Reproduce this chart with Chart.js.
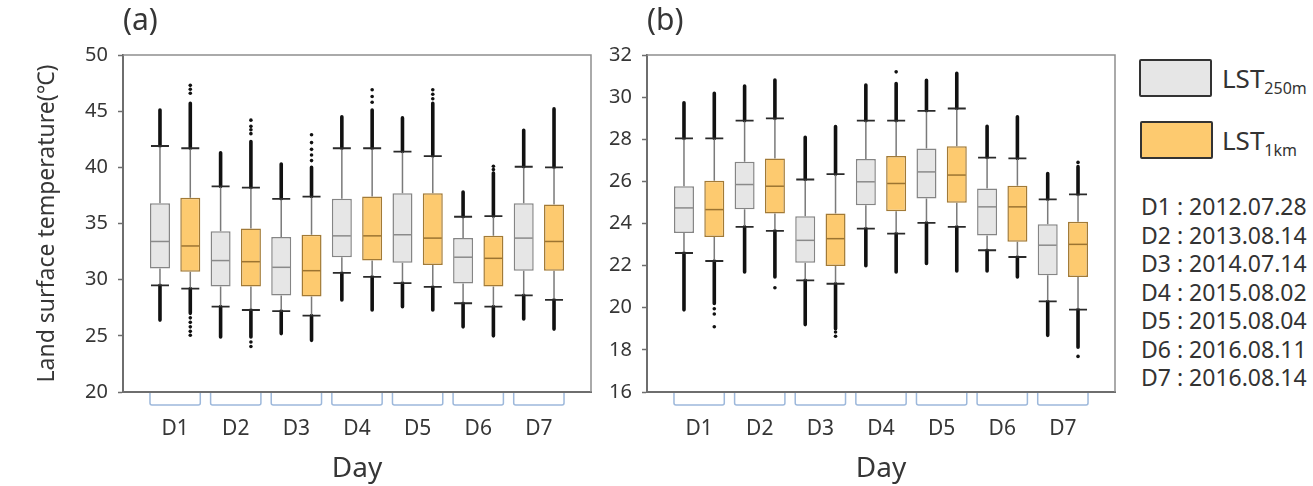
<!DOCTYPE html>
<html>
<head>
<meta charset="utf-8">
<script src="https://cdn.jsdelivr.net/npm/chart.js@4.4.1/dist/chart.umd.min.js"></script>
<style>
  html, body { margin: 0; padding: 0; background: #fff; }
  body { width: 1313px; height: 486px; position: relative; overflow: hidden;
         font-family: 'Noto Sans', sans-serif; color: #333; }
  canvas { position: absolute; top: 0; }
  #chartA { left: 0; }
  #chartB { left: 600px; }
  .swatch { position: absolute; width: 69px; height: 34px; border: 2px solid #333; border-radius: 2px; }
  .lst { position: absolute; left: 1222px; font-size: 26px; line-height: 26px; white-space: nowrap; }
  .lst sub { font-size: 16px; vertical-align: baseline; position: relative; top: 6px; }
  #dates { position: absolute; left: 1141px; top: 192px; font-size: 23px; line-height: 28.5px; white-space: pre; }
</style>
</head>
<body>
<canvas id="chartA" width="600" height="486"></canvas>
<canvas id="chartB" width="520" height="486"></canvas>

<div class="swatch" style="left:1139px;top:59px;background:#e6e6e6"></div>
<div class="swatch" style="left:1140px;top:121px;background:#fdca6f"></div>
<div class="lst" style="top:65px">LST<sub>250m</sub></div>
<div class="lst" style="top:127px">LST<sub>1km</sub></div>
<div id="dates"></div>

<script>
// ── DATA ──
const DAYS  = ['D1', 'D2', 'D3', 'D4', 'D5', 'D6', 'D7'];
const DATES = ['2012.07.28', '2013.08.14', '2014.07.14', '2015.08.02', '2015.08.04', '2016.08.11', '2016.08.14'];

// per day: [lower whisker, Q1, median, Q3, upper whisker]
const A_250 = [
  [29.5, 31.0, 33.4, 36.8, 41.9],
  [27.6, 29.4, 31.7, 34.3, 38.3],
  [27.2, 28.6, 31.1, 33.8, 37.2],
  [30.6, 32.0, 33.9, 37.2, 41.7],
  [29.7, 31.5, 34.0, 37.7, 41.4],
  [27.9, 29.65, 32.0, 33.7, 35.6],
  [28.6, 30.8, 33.7, 36.8, 40.05]
];
const A_1K = [
  [29.2, 30.7, 33.0, 37.3, 41.7],
  [27.3, 29.4, 31.6, 34.55, 38.2],
  [26.8, 28.5, 30.8, 34.0, 37.4],
  [30.25, 31.7, 33.9, 37.4, 41.7],
  [29.35, 31.3, 33.7, 37.7, 41.0],
  [27.6, 29.4, 31.9, 33.9, 35.65],
  [28.2, 30.8, 33.4, 36.7, 40.0]
];
const B_250 = [
  [22.6, 23.55, 24.74, 25.77, 28.04],
  [23.84, 24.68, 25.85, 26.93, 28.88],
  [21.3, 22.14, 23.2, 24.35, 26.09],
  [23.76, 24.87, 25.98, 27.06, 28.88],
  [24.03, 25.19, 26.45, 27.56, 29.35],
  [22.73, 23.43, 24.79, 25.66, 27.13],
  [20.3, 21.54, 22.97, 23.97, 25.15]
];
const B_1K = [
  [22.22, 23.36, 24.66, 26.03, 28.04],
  [23.65, 24.47, 25.77, 27.09, 28.99],
  [21.14, 21.98, 23.28, 24.47, 26.34],
  [23.52, 24.58, 25.9, 27.2, 28.88],
  [23.84, 24.98, 26.3, 27.67, 29.46],
  [22.41, 23.13, 24.79, 25.79, 27.09],
  [19.91, 21.46, 23.01, 24.08, 25.38]
];

// dense outlier range per day: [lowest, highest]
const A_250_TAILS = [[26.4, 45.1], [24.9, 41.3], [25.2, 40.3], [28.2, 44.5], [27.6, 44.4], [25.8, 37.8], [26.5, 43.3]];
const A_1K_TAILS  = [[27.0, 45.7], [24.9, 42.3], [24.6, 40.0], [27.3, 45.1], [27.3, 45.7], [25.0, 39.5], [25.6, 45.2]];
const B_250_TAILS = [[19.9, 29.73], [21.7, 30.53], [19.2, 28.09], [22.0, 30.57], [22.1, 30.8], [21.75, 28.62], [18.69, 26.37]];
const B_1K_TAILS  = [[20.2, 30.18], [21.46, 30.81], [19.0, 28.6], [21.7, 30.65], [21.75, 31.13], [21.46, 29.07], [18.13, 26.7]];

// isolated outliers
const A_250_DOTS = [[], [], [], [], [], [], []];
const A_1K_DOTS  = [
  [26.6, 26.2, 25.8, 25.4, 25.05, 46.6, 46.95, 47.3],
  [24.45, 24.05, 43.0, 43.35, 43.65, 44.2],
  [40.6, 41.1, 41.6, 42.2, 42.9],
  [45.8, 46.3, 46.9],
  [46.1, 46.5, 46.9],
  [39.8, 40.1],
  []
];
const B_250_DOTS = [[], [], [], [], [], [], []];
const B_1K_DOTS  = [[19.95, 19.7, 19.1], [20.95], [18.85, 18.65], [31.2], [], [], [26.9, 17.69]];

// ── STYLE ──
const CHART_FONT  = "'Noto Sans', sans-serif";
const TEXT_COLOR  = '#363636';
const AXIS_COLOR  = '#6e6e6e';
const FRAME_COLOR = '#8e8e8e';
const BRACKET_COLOR = '#9db8db';
const WHISKER_COLOR = '#7a7a7a';
const CAP_COLOR   = '#2a2a2a';
const DOT_COLOR   = '#111';
const BOX_W = 20;

const GRAY_STYLE   = { fill: '#e6e6e6', edge: '#858585', median: '#8a8a8a' };
const ORANGE_STYLE = { fill: '#fdca6f', edge: '#a27a36', median: '#9c7431' };

document.getElementById('dates').textContent =
  DAYS.map((d, i) => `${d} : ${DATES[i]}`).join('\n');

function boxDataset(label, stats, tails, dots, shift, style) {
  return {
    label,
    data: stats.map((s, i) => ({ x: i + shift, y: [s[1], s[3]] })),
    stats, tails, dots, shift,
    medianColor: style.median,
    backgroundColor: style.fill,
    borderColor: style.edge,
    borderWidth: 1.5,
    borderSkipped: false,
    grouped: false,
    maxBarThickness: BOX_W
  };
}

const boxExtrasPlugin = {
  id: 'boxExtras',
  beforeDatasetsDraw(chart) {
    const { ctx, scales: { x, y } } = chart;
    ctx.save();
    chart.data.datasets.forEach(ds => {
      ds.stats.forEach(([lo, q1, med, q3, hi], i) => {
        const cx = x.getPixelForValue(i + ds.shift);
        const [tMin, tMax] = ds.tails[i];

        // dense outliers
        ctx.strokeStyle = DOT_COLOR;
        ctx.lineWidth = 3.6;
        ctx.lineCap = 'round';
        ctx.beginPath();
        ctx.moveTo(cx, y.getPixelForValue(hi));
        ctx.lineTo(cx, y.getPixelForValue(tMax));
        ctx.moveTo(cx, y.getPixelForValue(lo));
        ctx.lineTo(cx, y.getPixelForValue(tMin));
        ctx.stroke();

        // whiskers
        ctx.strokeStyle = WHISKER_COLOR;
        ctx.lineWidth = 1.5;
        ctx.lineCap = 'butt';
        ctx.beginPath();
        ctx.moveTo(cx, y.getPixelForValue(q3));
        ctx.lineTo(cx, y.getPixelForValue(hi));
        ctx.moveTo(cx, y.getPixelForValue(q1));
        ctx.lineTo(cx, y.getPixelForValue(lo));
        ctx.stroke();

        // caps
        ctx.strokeStyle = CAP_COLOR;
        ctx.lineWidth = 1.8;
        ctx.beginPath();
        [lo, hi].forEach(v => {
          const py = y.getPixelForValue(v);
          ctx.moveTo(cx - 9, py);
          ctx.lineTo(cx + 9, py);
        });
        ctx.stroke();

        // isolated outliers
        ctx.fillStyle = DOT_COLOR;
        ds.dots[i].forEach(v => {
          ctx.beginPath();
          ctx.arc(cx, y.getPixelForValue(v), 1.8, 0, Math.PI * 2);
          ctx.fill();
        });
      });
    });
    ctx.restore();
  },
  afterDatasetsDraw(chart) {
    const { ctx, scales: { x, y } } = chart;
    ctx.save();
    ctx.lineWidth = 1.5;
    chart.data.datasets.forEach(ds => {
      ctx.strokeStyle = ds.medianColor;
      ds.stats.forEach((s, i) => {
        const cx = x.getPixelForValue(i + ds.shift);
        const py = y.getPixelForValue(s[2]);
        ctx.beginPath();
        ctx.moveTo(cx - BOX_W / 2 + 1, py);
        ctx.lineTo(cx + BOX_W / 2 - 1, py);
        ctx.stroke();
      });
    });
    ctx.restore();
  },
  afterDraw(chart) {
    const { ctx, chartArea: { left, right, top, bottom }, scales: { x } } = chart;
    ctx.save();
    // top and right frame
    ctx.strokeStyle = FRAME_COLOR;
    ctx.lineWidth = 1.5;
    ctx.beginPath();
    ctx.moveTo(left, top);
    ctx.lineTo(right, top);
    ctx.lineTo(right, bottom);
    ctx.stroke();
    // brackets grouping each day
    ctx.strokeStyle = BRACKET_COLOR;
    ctx.lineWidth = 1.5;
    DAYS.forEach((d, i) => {
      const l = x.getPixelForValue(i - 0.25) - BOX_W / 2;
      const r = x.getPixelForValue(i + 0.25) + BOX_W / 2;
      const t = bottom + 1, b = bottom + 13;
      ctx.beginPath();
      ctx.moveTo(l, t);
      ctx.lineTo(l, b - 2);
      ctx.quadraticCurveTo(l, b, l + 2, b);
      ctx.lineTo(r - 2, b);
      ctx.quadraticCurveTo(r, b, r, b - 2);
      ctx.lineTo(r, t);
      ctx.stroke();
    });
    ctx.restore();
  }
};

function buildPanel(canvasId, cfg) {
  const ctx = document.getElementById(canvasId);
  return new Chart(ctx, {
    type: 'bar',
    data: {
      datasets: [
        boxDataset('LST250m', cfg.s250, cfg.t250, cfg.d250, -0.25, GRAY_STYLE),
        boxDataset('LST1km', cfg.s1k, cfg.t1k, cfg.d1k, 0.25, ORANGE_STYLE)
      ]
    },
    options: {
      responsive: false,
      animation: false,
      devicePixelRatio: 1,
      layout: { padding: { left: 0, right: cfg.padRight, top: 0, bottom: 0 } },
      plugins: {
        legend: { display: false },
        tooltip: { enabled: false },
        title: {
          display: true,
          text: cfg.title,
          align: 'start',
          fullSize: false,
          color: TEXT_COLOR,
          font: { family: CHART_FONT, size: 30, weight: 'normal' },
          padding: { top: 3, bottom: 16 }
        }
      },
      scales: {
        x: {
          type: 'linear',
          min: -0.86,
          max: 6.86,
          offset: false,
          afterFit(scale) { scale.height = 94; },
          afterBuildTicks(scale) { scale.ticks = DAYS.map((d, i) => ({ value: i })); },
          ticks: {
            autoSkip: false,
            maxRotation: 0,
            padding: 24,
            color: TEXT_COLOR,
            font: { family: CHART_FONT, size: 21 },
            callback: v => DAYS[v]
          },
          grid: { drawOnChartArea: false, drawTicks: false },
          border: { color: AXIS_COLOR, width: 2 },
          title: {
            display: true,
            text: 'Day',
            color: TEXT_COLOR,
            font: { family: CHART_FONT, size: 28 },
            padding: { top: 0, bottom: 0 }
          }
        },
        y: {
          min: cfg.yMin,
          max: cfg.yMax,
          afterFit(scale) { scale.width = cfg.yWidth; },
          ticks: {
            stepSize: cfg.yStep,
            padding: 10,
            color: TEXT_COLOR,
            font: { family: CHART_FONT, size: 20 }
          },
          grid: { drawOnChartArea: false, tickLength: 5, tickColor: AXIS_COLOR, tickWidth: 1.5 },
          border: { color: AXIS_COLOR, width: 2 },
          title: {
            display: !!cfg.yTitle,
            text: cfg.yTitle || '',
            color: TEXT_COLOR,
            font: { family: CHART_FONT, size: 23 },
            padding: { top: 34, bottom: 0 }
          }
        }
      }
    },
    plugins: [boxExtrasPlugin]
  });
}

buildPanel('chartA', {
  title: '(a)', yTitle: 'Land surface temperature(℃)',
  yMin: 20, yMax: 50, yStep: 5, yWidth: 123, padRight: 9,
  s250: A_250, t250: A_250_TAILS, d250: A_250_DOTS,
  s1k: A_1K, t1k: A_1K_TAILS, d1k: A_1K_DOTS
});

buildPanel('chartB', {
  title: '(b)', yTitle: null,
  yMin: 16, yMax: 32, yStep: 2, yWidth: 47, padRight: 5,
  s250: B_250, t250: B_250_TAILS, d250: B_250_DOTS,
  s1k: B_1K, t1k: B_1K_TAILS, d1k: B_1K_DOTS
});
</script>
</body>
</html>
